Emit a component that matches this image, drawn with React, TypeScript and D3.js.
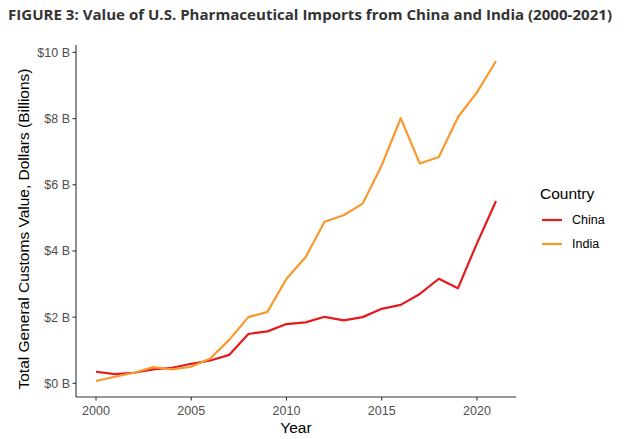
import React from 'react';
import * as d3 from 'd3';

// Values (billions of dollars)
const years: number[] = [2000, 2001, 2002, 2003, 2004, 2005, 2006, 2007, 2008, 2009, 2010,
  2011, 2012, 2013, 2014, 2015, 2016, 2017, 2018, 2019, 2020, 2021];
const china: number[] = [0.35, 0.28, 0.32, 0.42, 0.47, 0.59, 0.69, 0.86, 1.49, 1.57, 1.79,
  1.84, 2.01, 1.90, 2.00, 2.25, 2.37, 2.70, 3.16, 2.87, 4.23, 5.51];
const india: number[] = [0.07, 0.20, 0.32, 0.49, 0.42, 0.50, 0.75, 1.32, 2.00, 2.16, 3.16,
  3.81, 4.88, 5.08, 5.43, 6.59, 8.01, 6.64, 6.84, 8.04, 8.79, 9.74];
const xTicks: number[] = [2000, 2005, 2010, 2015, 2020];
const yTicks: number[] = [0, 2, 4, 6, 8, 10];
const seriesNames: string[] = ['China', 'India'];
const seriesColors: string[] = ['#E41A1C', '#F8992F'];

const W = 624;
const H = 439;
const panel = { left: 76, right: 516, top: 45, bottom: 397 };

const App = () => {
  // ggplot-style 5% expansion on both axes
  const xPad = (years[years.length - 1] - years[0]) * 0.05;
  const x = d3.scaleLinear()
    .domain([years[0] - xPad, years[years.length - 1] + xPad])
    .range([panel.left, panel.right]);

  const all = china.concat(india);
  const lo = d3.min(all) || 0;
  const hi = d3.max(all) || 10;
  const yPad = (hi - lo) * 0.05;
  const y = d3.scaleLinear()
    .domain([lo - yPad, hi + yPad])
    .range([panel.bottom, panel.top]);

  const line = d3.line<number>()
    .x((_, i) => x(years[i]))
    .y(d => y(d));

  const series = [china, india];
  const tickColor = '#4D4D4D';
  const axisColor = '#333333';
  const font = '"Liberation Sans", Arial, sans-serif';

  return (
    <svg width={W} height={H} style={{ position: 'absolute', left: 0, top: 0, background: '#fff' }}>
      <text x={8} y={20} fontFamily='"Open Sans", sans-serif' fontWeight={700} fontSize={14.2}
        fill="#333" textLength={604} lengthAdjust="spacingAndGlyphs">
        FIGURE 3: Value of U.S. Pharmaceutical Imports from China and India (2000-2021)
      </text>

      {/* lines */}
      {series.map((s, i) => (
        <path key={seriesNames[i]} d={line(s) || ''} fill="none" stroke={seriesColors[i]}
          strokeWidth={2.2} strokeLinejoin="round" />
      ))}

      {/* axes */}
      <line x1={panel.left} x2={panel.left} y1={panel.top} y2={panel.bottom} stroke={axisColor} strokeWidth={1.1} />
      <line x1={panel.left} x2={panel.right} y1={panel.bottom} y2={panel.bottom} stroke={axisColor} strokeWidth={1.1} />

      {yTicks.map(t => (
        <g key={t}>
          <line x1={panel.left - 3.5} x2={panel.left} y1={y(t)} y2={y(t)} stroke={axisColor} strokeWidth={1.1} />
          <text x={panel.left - 6} y={y(t)} dy="0.35em" textAnchor="end" fontFamily={font}
            fontSize={12.5} fill={tickColor}>{`$${t} B`}</text>
        </g>
      ))}
      {xTicks.map(t => (
        <g key={t}>
          <line x1={x(t)} x2={x(t)} y1={panel.bottom} y2={panel.bottom + 3.5} stroke={axisColor} strokeWidth={1.1} />
          <text x={x(t)} y={panel.bottom + 18} textAnchor="middle" fontFamily={font}
            fontSize={12.5} fill={tickColor}>{t}</text>
        </g>
      ))}

      <text x={(panel.left + panel.right) / 2} y={433} textAnchor="middle" fontFamily={font}
        fontSize={15.5} fill="#000">Year</text>
      <text transform={`translate(29,${(panel.top + panel.bottom) / 2 + 8}) rotate(-90)`} textAnchor="middle"
        fontFamily={font} fontSize={15.5} fill="#000">Total General Customs Value, Dollars (Billions)</text>

      {/* legend */}
      <text x={540} y={199} fontFamily={font} fontSize={15.5} fill="#000">Country</text>
      {seriesNames.map((n, i) => (
        <g key={n}>
          <line x1={542} x2={562} y1={220 + i * 24} y2={220 + i * 24} stroke={seriesColors[i]} strokeWidth={2.2} />
          <text x={572} y={220 + i * 24} dy="0.35em" fontFamily={font} fontSize={12.5} fill="#000">{n}</text>
        </g>
      ))}
    </svg>
  );
};

export default App;
